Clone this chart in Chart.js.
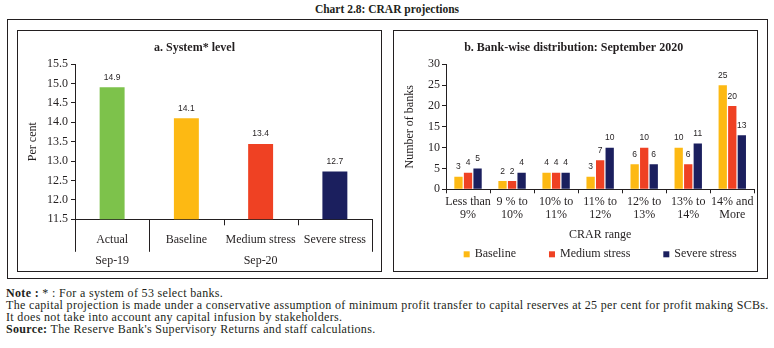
<!DOCTYPE html>
<html>
<head>
<meta charset="utf-8">
<script src="https://cdn.jsdelivr.net/npm/chart.js@4.4.0/dist/chart.umd.min.js"></script>
<style>
  body { margin: 0; width: 774px; height: 348px; background: #fff; position: relative; overflow: hidden;
         font-family: "Liberation Serif", serif; color: #231f20; }
  .box { position: absolute; border: 1px solid #231f20; box-sizing: border-box; pointer-events: none; }
  canvas { position: absolute; }
  #title { position: absolute; top: 3px; left: 0; width: 774px; text-align: center; font-weight: bold; font-size: 11.5px; }
  #notes { position: absolute; left: 6px; top: 287px; font-size: 12px; line-height: 12px; letter-spacing: 0.33px; white-space: nowrap; }
</style>
</head>
<body>
<div id="title">Chart 2.8: CRAR projections</div>
<div class="box" style="left:7px;top:19px;width:761px;height:260px;border-width:1.3px"></div>
<canvas id="sys" width="365" height="242" style="left:17px;top:30px"></canvas>
<canvas id="dist" width="365" height="242" style="left:393px;top:30px"></canvas>
<div class="box" style="left:17px;top:30px;width:365px;height:242px"></div>
<div class="box" style="left:393px;top:30px;width:365px;height:242px"></div>
<div id="notes"><b>Note :</b> * : For a system of 53 select banks.<br>The capital projection is made under a conservative assumption of minimum profit transfer to capital reserves at 25 per cent for profit making SCBs.<br>It does not take into account any capital infusion by stakeholders.<br><b>Source:</b> The Reserve Bank's Supervisory Returns and staff calculations.</div>
<script>
// panel a: system level CRAR
const sysLabels = [['Actual', 'Sep-19'], ['Baseline', ''], ['Medium stress', 'Sep-20'], ['Severe stress', '']];
const sysValues = [14.9, 14.1, 13.44, 12.73];
const sysColors = ['#7DC24B', '#FDB913', '#EF4123', '#1B1F5E'];
const groupStarts = [0, 1]; // Sep-19 | Sep-20

// panel b: bank-wise distribution
const rangeLabels = [['Less than', '9%'], ['9 % to', '10%'], ['10% to', '11%'], ['11% to', '12%'],
                     ['12% to', '13%'], ['13% to', '14%'], ['14% and', 'More']];
const baseline = [3, 2, 4, 3, 6, 10, 25];
const medium = [4, 2, 4, 7, 10, 6, 20];
const severe = [5, 4, 4, 10, 6, 11, 13];

const ink = '#231f20';
const serif = '"Liberation Serif", serif';

// numbers above the bars
const valueLabels = {
    id: 'valueLabels',
    afterDatasetsDraw(chart, args, opts) {
        const ctx = chart.ctx;
        ctx.save();
        ctx.font = '8.5px "Liberation Sans", sans-serif';
        ctx.fillStyle = ink;
        ctx.textAlign = 'center';
        ctx.textBaseline = 'middle';
        chart.data.datasets.forEach((ds, i) => {
            chart.getDatasetMeta(i).data.forEach((bar, j) => {
                ctx.fillText(ds.data[j].toFixed(opts.decimals), bar.x, bar.y - opts.offset);
            });
        });
        ctx.restore();
    }
};

// tick separators under the category axis, long ones between groups
const groupLines = {
    id: 'groupLines',
    afterDraw(chart) {
        const x = chart.scales.x, ctx = chart.ctx;
        const half = (x.getPixelForValue(1) - x.getPixelForValue(0)) / 2;
        ctx.save();
        ctx.strokeStyle = ink;
        ctx.lineWidth = 1;
        for (let i = 0; i <= sysLabels.length; i++) {
            const px = Math.round(x.getPixelForValue(i) - half) + 0.5;
            const long = groupStarts.includes(i) || i === sysLabels.length;
            ctx.beginPath();
            ctx.moveTo(px, x.top);
            ctx.lineTo(px, x.top + (long ? 32.5 : 6));
            ctx.stroke();
        }
        ctx.restore();
    }
};

// legend row under the axis title
const bottomLegend = {
    id: 'bottomLegend',
    afterDraw(chart) {
        const ctx = chart.ctx, a = chart.chartArea;
        ctx.save();
        ctx.font = '12px ' + serif;
        ctx.textBaseline = 'middle';
        const box = 6, gapText = 5, gapItem = 33;
        const items = chart.data.datasets.map(d => ({ t: d.label, c: d.backgroundColor, w: ctx.measureText(d.label).width }));
        const total = items.reduce((s, it) => s + box + gapText + it.w, 0) + gapItem * (items.length - 1);
        let x = (a.left + a.right) / 2 - total / 2;
        const y = a.bottom + 65;
        items.forEach(it => {
            ctx.fillStyle = it.c;
            ctx.fillRect(x, y - box / 2, box, box);
            ctx.fillStyle = ink;
            ctx.fillText(it.t, x + box + gapText, y);
            x += box + gapText + it.w + gapItem;
        });
        ctx.restore();
    }
};

new Chart(document.getElementById('sys'), {
    type: 'bar',
    data: {
        labels: sysLabels,
        datasets: [{ data: sysValues, backgroundColor: sysColors, barPercentage: 0.42, categoryPercentage: 0.8 }]
    },
    plugins: [valueLabels, groupLines],
    options: {
        responsive: false,
        animation: false,
        devicePixelRatio: 1,
        layout: { padding: { left: 0, right: 10, top: 0, bottom: 0 } },
        plugins: {
            legend: { display: false },
            tooltip: { enabled: false },
            title: { display: true, text: 'a. System* level', color: ink,
                     font: { family: serif, size: 12, weight: 'bold' }, padding: { top: 11.1, bottom: 8.5 } },
            valueLabels: { decimals: 1, offset: 10 }
        },
        scales: {
            x: {
                grid: { display: false },
                border: { color: ink },
                ticks: { color: ink, font: { family: serif, size: 12, lineHeight: 1.7 }, padding: 2.8,
                         maxRotation: 0, autoSkip: false },
                afterFit(s) { s.height = 52.7; }
            },
            y: {
                min: 11.5, max: 15.5,
                ticks: { stepSize: 0.5, color: ink, font: { family: serif, size: 12 }, padding: 3,
                         callback: v => v.toFixed(1) },
                grid: { drawOnChartArea: false, tickLength: 4, color: ink },
                border: { color: ink },
                title: { display: true, text: 'Per cent', color: ink, font: { family: serif, size: 12 }, padding: { top: 9.1 } },
                afterFit(s) { s.width = 58; }
            }
        }
    }
});

new Chart(document.getElementById('dist'), {
    type: 'bar',
    data: {
        labels: rangeLabels,
        datasets: [
            { label: 'Baseline', data: baseline, backgroundColor: '#FDB913' },
            { label: 'Medium stress', data: medium, backgroundColor: '#EF4123' },
            { label: 'Severe stress', data: severe, backgroundColor: '#1B1F5E' }
        ]
    },
    plugins: [valueLabels, bottomLegend],
    options: {
        responsive: false,
        animation: false,
        devicePixelRatio: 1,
        datasets: { bar: { barPercentage: 0.87, categoryPercentage: 0.65 } },
        layout: { padding: { left: 0, right: 3.7, top: 0, bottom: 29.8 } },
        plugins: {
            legend: { display: false },
            tooltip: { enabled: false },
            title: { display: true, text: 'b. Bank-wise distribution: September 2020', color: ink,
                     font: { family: serif, size: 12, weight: 'bold' }, padding: { top: 10.5, bottom: 9.4 } },
            valueLabels: { decimals: 0, offset: 9.7 }
        },
        scales: {
            x: {
                grid: { offset: true, drawOnChartArea: false, tickLength: 4, color: ink },
                border: { color: ink },
                ticks: { color: ink, font: { family: serif, size: 12, lineHeight: 1.1 }, padding: 1.8,
                         maxRotation: 0, autoSkip: false },
                title: { display: true, text: 'CRAR range', color: ink, font: { family: serif, size: 12 }, padding: { top: 4, bottom: 0 } },
                afterFit(s) { s.height = 52.9; }
            },
            y: {
                min: 0, max: 30,
                ticks: { stepSize: 5, color: ink, font: { family: serif, size: 12 }, padding: 2 },
                grid: { drawOnChartArea: false, tickLength: 4, color: ink },
                border: { color: ink },
                title: { display: true, text: 'Number of banks', color: ink, font: { family: serif, size: 12 }, padding: { top: 9.8 } },
                afterFit(s) { s.width = 53; }
            }
        }
    }
});
</script>
</body>
</html>
